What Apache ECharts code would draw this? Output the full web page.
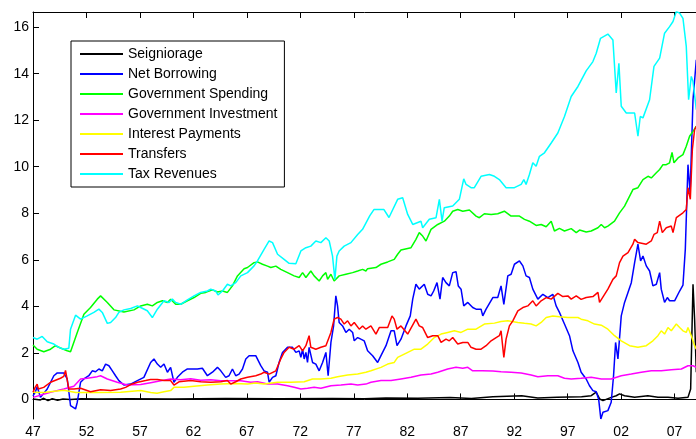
<!DOCTYPE html>
<html>
<head>
<meta charset="utf-8">
<script src="https://cdn.jsdelivr.net/npm/echarts@6/dist/echarts.min.js"></script>
<style>
html, body { margin: 0; padding: 0; background: #fff; }
#chart { width: 696px; height: 439px; }
</style>
</head>
<body>
<div id="chart"></div>
<script>
// [year, % of GDP]
var seigniorage = [[1947.0,0.02],[1947.7,-0.02],[1948.0,0.05],[1948.4,-0.05],[1948.8,0.03],[1949.3,-0.03],[1949.8,0.02],[1950.5,0.0],[1951.5,0.03],[1953,0.02],[1956,0.03],[1960,0.02],[1965,0.04],[1970,0.03],[1975,0.04],[1978,0.03],[1980,0.06],[1983,0.05],[1986,0.08],[1988,0.04],[1990,0.12],[1992.7,0.16],[1994.2,0.06],[1996,0.09],[1998.3,0.12],[1999.2,0.16],[1999.67,0.31],[1999.83,0.38],[2000.0,0.02],[2000.3,-0.05],[2001.07,0.09],[2001.54,0.16],[2001.85,0.24],[2002.32,0.16],[2003.26,0.09],[2004.5,0.16],[2005.44,0.09],[2006.38,0.09],[2007.32,0.05],[2008.25,0.09],[2008.5,0.45],[2008.72,4.95],[2008.87,3.45],[2009.03,1.17]];

var netBorrowing = [[1947.0,0.15],[1947.2,0.3],[1947.39,0.55],[1947.7,0.09],[1948.33,0.45],[1948.95,1.02],[1949.27,1.14],[1949.88,1.14],[1950.2,0.88],[1950.4,0.16],[1950.51,-0.27],[1950.98,-0.41],[1951.14,-0.12],[1951.45,0.74],[1951.76,0.88],[1952.22,1.02],[1952.54,1.23],[1952.85,1.19],[1953.16,1.31],[1953.48,1.23],[1953.79,1.52],[1954.10,1.45],[1954.42,1.23],[1954.72,1.02],[1955.03,0.81],[1955.5,0.62],[1956.13,0.66],[1956.76,0.81],[1957.37,0.95],[1958.0,1.59],[1958.31,1.74],[1958.63,1.52],[1958.94,1.38],[1959.25,1.52],[1959.57,1.17],[1959.87,1.38],[1960.18,0.74],[1960.5,0.95],[1960.97,1.17],[1961.44,1.31],[1961.91,1.31],[1962.37,1.31],[1962.84,1.34],[1963.31,1.02],[1963.78,1.17],[1964.25,1.38],[1964.56,1.23],[1965.02,0.95],[1965.33,1.02],[1965.65,1.31],[1965.96,1.02],[1966.27,1.09],[1966.59,1.31],[1966.90,1.74],[1967.21,1.88],[1967.83,1.88],[1968.0,1.81],[1968.3,1.45],[1968.61,1.23],[1968.93,1.17],[1969.08,0.74],[1969.4,0.95],[1969.71,1.02],[1970.01,1.59],[1970.33,2.02],[1970.8,2.24],[1971.27,2.24],[1971.58,2.02],[1971.89,2.09],[1972.05,1.81],[1972.21,2.16],[1972.36,1.74],[1972.52,2.02],[1972.67,1.59],[1972.82,2.24],[1973.14,1.59],[1973.45,1.52],[1973.76,1.23],[1974.08,1.59],[1974.39,2.02],[1974.6,1.02],[1974.86,2.45],[1975.11,3.16],[1975.32,4.45],[1975.48,4.02],[1975.63,3.31],[1975.95,3.16],[1976.26,2.88],[1976.57,3.02],[1976.89,2.88],[1977.04,2.52],[1977.36,2.66],[1977.66,2.59],[1977.97,2.52],[1978.29,2.09],[1978.76,1.88],[1979.23,1.59],[1979.54,1.88],[1980.01,2.31],[1980.48,2.95],[1980.78,2.95],[1981.04,2.31],[1981.41,2.59],[1981.88,3.16],[1982.28,3.59],[1982.51,4.31],[1982.81,4.95],[1983.12,4.74],[1983.59,4.95],[1983.91,4.52],[1984.22,4.45],[1984.47,4.66],[1984.78,5.02],[1985.06,4.31],[1985.31,5.24],[1985.62,5.02],[1985.93,4.88],[1986.25,5.45],[1986.56,5.49],[1986.77,4.88],[1987.03,4.74],[1987.28,4.02],[1987.66,4.17],[1988.12,3.95],[1988.43,3.88],[1988.9,3.88],[1989.06,3.59],[1989.37,3.88],[1990.0,4.38],[1990.46,4.38],[1990.77,4.88],[1991.03,4.09],[1991.40,5.31],[1991.71,5.38],[1992.02,5.81],[1992.49,5.95],[1992.81,5.74],[1993.11,5.31],[1993.42,5.24],[1993.74,4.74],[1994.21,4.31],[1994.68,4.52],[1995.15,4.38],[1995.61,4.52],[1995.92,4.02],[1996.23,3.74],[1996.7,3.24],[1997.17,2.74],[1997.49,2.09],[1997.96,1.59],[1998.26,1.17],[1998.73,0.88],[1999.04,0.59],[1999.36,0.38],[1999.67,0.33],[1999.9,0.0],[2000.1,-0.84],[2000.3,-0.55],[2000.76,-0.48],[2001.07,-0.12],[2001.29,1.02],[2001.48,2.45],[2001.7,1.74],[2002.01,3.59],[2002.32,4.17],[2002.64,4.6],[2002.95,5.02],[2003.26,5.88],[2003.57,6.67],[2003.82,5.95],[2004.04,6.16],[2004.35,5.74],[2004.66,5.52],[2004.97,4.88],[2005.29,4.95],[2005.6,5.45],[2005.75,4.74],[2006.06,4.17],[2006.32,4.38],[2006.53,4.24],[2007.0,4.24],[2007.47,4.66],[2007.78,4.91],[2008.0,6.45],[2008.25,10.09],[2008.45,8.88],[2008.72,12.88],[2009.03,14.6]];

var govSpending = [[1947.0,2.34],[1947.39,2.16],[1948.01,2.05],[1948.64,2.16],[1949.1,2.31],[1949.57,2.21],[1950.2,2.09],[1950.51,2.05],[1951.14,2.88],[1951.76,3.66],[1952.38,3.95],[1953.01,4.31],[1953.32,4.45],[1953.95,4.17],[1954.57,3.85],[1955.5,3.76],[1956.44,3.85],[1957.07,4.02],[1957.69,4.09],[1958.16,4.02],[1958.63,4.17],[1959.1,4.24],[1959.57,4.17],[1959.87,4.31],[1960.34,4.09],[1960.81,4.09],[1961.44,4.24],[1962.06,4.38],[1962.68,4.56],[1963.15,4.6],[1963.78,4.71],[1964.25,4.62],[1964.72,4.66],[1965.18,4.6],[1965.65,4.88],[1966.12,5.31],[1966.74,5.62],[1967.06,5.67],[1967.67,5.88],[1967.99,5.91],[1968.46,5.81],[1968.93,5.73],[1969.24,5.67],[1969.71,5.73],[1970.17,5.59],[1970.8,5.45],[1971.42,5.31],[1971.89,5.24],[1972.21,5.45],[1972.52,5.24],[1972.98,5.52],[1973.29,5.31],[1973.76,5.09],[1974.08,5.31],[1974.39,5.45],[1974.55,5.16],[1974.86,5.38],[1975.16,5.09],[1975.63,5.31],[1976.26,5.38],[1976.89,5.45],[1977.36,5.52],[1977.82,5.59],[1978.13,5.52],[1978.29,5.62],[1979.07,5.67],[1979.54,5.81],[1980.17,5.91],[1980.78,6.02],[1981.1,6.24],[1981.41,6.42],[1982.35,6.52],[1982.81,6.88],[1983.12,7.17],[1983.44,7.02],[1983.75,6.81],[1984.22,7.31],[1984.85,7.52],[1985.47,7.66],[1985.93,7.88],[1986.25,8.09],[1986.72,8.16],[1987.19,8.09],[1987.81,8.14],[1988.43,7.88],[1988.74,7.81],[1989.21,7.98],[1989.84,7.95],[1990.46,7.98],[1991.08,8.09],[1991.71,7.88],[1992.49,7.88],[1992.96,7.74],[1993.42,7.66],[1994.05,7.48],[1994.52,7.52],[1994.99,7.42],[1995.46,7.66],[1995.76,7.24],[1996.23,7.35],[1996.7,7.24],[1997.33,7.34],[1997.8,7.17],[1998.11,7.28],[1998.73,7.2],[1999.2,7.24],[1999.83,7.38],[2000.14,7.52],[2000.45,7.38],[2000.76,7.45],[2001.38,7.66],[2001.85,8.02],[2002.32,8.31],[2003.1,9.02],[2003.57,9.1],[2004.04,9.45],[2004.51,9.59],[2004.82,9.52],[2005.29,9.74],[2005.6,9.88],[2005.91,10.09],[2006.22,10.09],[2006.53,10.17],[2006.76,10.62],[2006.94,10.17],[2007.32,10.38],[2007.78,10.52],[2008.09,10.88],[2008.4,11.31],[2008.72,11.52],[2009.03,11.74]];

var govInvestment = [[1947.0,0.09],[1948.64,0.31],[1949.88,0.45],[1950.82,0.57],[1951.45,0.88],[1952.07,0.91],[1953.01,0.98],[1953.32,1.02],[1953.95,0.88],[1954.88,0.74],[1955.82,0.62],[1957.07,0.64],[1958.0,0.72],[1958.94,0.8],[1959.87,0.88],[1960.81,0.85],[1961.75,0.89],[1962.68,0.83],[1963.62,0.85],[1964.56,0.8],[1965.49,0.8],[1966.43,0.8],[1967.37,0.74],[1968.0,0.76],[1968.93,0.66],[1969.87,0.66],[1970.8,0.59],[1971.42,0.52],[1972.05,0.45],[1972.67,0.48],[1973.29,0.52],[1973.92,0.48],[1974.86,0.59],[1975.79,0.62],[1976.73,0.66],[1977.36,0.62],[1978.13,0.66],[1978.6,0.74],[1979.54,0.81],[1980.48,0.81],[1981.41,0.88],[1982.35,0.95],[1983.28,1.05],[1984.22,1.09],[1984.85,1.17],[1985.78,1.31],[1986.56,1.38],[1987.19,1.34],[1987.66,1.38],[1988.12,1.23],[1989.0,1.23],[1990.0,1.22],[1990.77,1.19],[1991.71,1.17],[1992.65,1.14],[1993.58,1.05],[1994.21,0.98],[1995.15,1.02],[1996.08,1.02],[1996.7,0.91],[1997.33,0.88],[1998.26,0.91],[1999.2,0.95],[2000.14,0.88],[2001.07,0.88],[2002.01,1.02],[2002.95,1.09],[2003.88,1.17],[2004.82,1.23],[2005.75,1.23],[2006.69,1.28],[2007.63,1.31],[2008.25,1.45],[2008.72,1.45],[2009.03,1.38]];

var interestPayments = [[1947.0,0.31],[1948.0,0.3],[1949.88,0.4],[1951.0,0.3],[1953.0,0.3],[1955.19,0.31],[1957.07,0.38],[1958.0,0.3],[1958.6,0.27],[1959.25,0.33],[1959.87,0.38],[1960.18,0.52],[1961.12,0.52],[1962.06,0.57],[1963.31,0.62],[1964.56,0.66],[1965.8,0.69],[1967.06,0.66],[1967.83,0.71],[1968.61,0.66],[1969.87,0.74],[1971.11,0.74],[1972.36,0.76],[1973.14,0.88],[1973.92,0.88],[1974.86,0.91],[1975.48,0.98],[1976.42,1.05],[1977.36,1.09],[1978.13,1.17],[1978.6,1.23],[1979.54,1.38],[1980.17,1.52],[1980.78,1.59],[1981.1,1.81],[1981.72,1.95],[1982.66,2.16],[1983.28,2.16],[1983.91,2.38],[1984.53,2.66],[1985.16,2.81],[1985.78,2.88],[1986.4,2.95],[1987.03,2.88],[1987.66,3.02],[1988.43,3.02],[1988.59,3.09],[1989.21,3.24],[1990.15,3.28],[1990.77,3.35],[1991.4,3.38],[1992.34,3.31],[1992.96,3.27],[1993.58,3.24],[1994.05,3.16],[1994.52,3.31],[1994.99,3.52],[1995.61,3.59],[1996.23,3.55],[1997.02,3.52],[1997.96,3.52],[1998.26,3.45],[1998.89,3.38],[1999.51,3.24],[2000.14,3.19],[2000.76,3.02],[2001.38,2.74],[2002.01,2.52],[2002.79,2.31],[2003.57,2.24],[2004.35,2.31],[2004.97,2.52],[2005.44,2.74],[2005.75,2.95],[2006.06,2.81],[2006.38,3.09],[2006.69,2.95],[2007.16,3.24],[2007.47,3.09],[2007.78,2.95],[2008.09,2.88],[2008.25,3.09],[2008.56,2.74],[2008.87,2.31],[2009.03,2.16]];

var transfers = [[1947.0,0.31],[1947.2,0.52],[1947.39,0.66],[1947.5,0.45],[1948.0,0.52],[1948.64,0.74],[1949.57,0.91],[1949.88,0.99],[1950.04,1.25],[1950.35,0.45],[1950.82,0.45],[1951.45,0.48],[1952.38,0.33],[1953.32,0.42],[1954.26,0.38],[1955.19,0.45],[1955.66,0.52],[1956.13,0.64],[1956.78,0.74],[1957.53,0.81],[1958.0,0.86],[1958.63,0.86],[1959.25,0.81],[1959.87,0.81],[1960.18,0.62],[1960.65,0.76],[1961.75,0.81],[1962.68,0.76],[1963.62,0.74],[1964.56,0.76],[1965.18,0.81],[1965.49,0.66],[1965.96,0.76],[1966.43,0.88],[1967.06,0.95],[1967.83,1.02],[1968.3,1.09],[1968.61,1.17],[1969.08,1.09],[1969.71,1.23],[1970.17,1.74],[1970.48,2.02],[1970.95,2.24],[1971.42,2.16],[1971.89,2.31],[1972.21,2.09],[1972.52,2.31],[1972.82,2.74],[1972.98,2.24],[1973.45,2.16],[1973.92,2.24],[1974.39,2.31],[1974.86,2.88],[1975.16,3.45],[1975.48,3.52],[1975.79,3.45],[1976.1,3.24],[1976.42,3.38],[1976.73,3.16],[1977.04,3.31],[1977.51,3.02],[1977.82,3.16],[1978.13,3.02],[1978.6,3.16],[1979.07,2.81],[1979.38,3.09],[1980.17,3.09],[1980.57,3.59],[1980.78,3.45],[1981.04,3.02],[1981.41,3.16],[1982.04,2.81],[1982.81,3.45],[1983.12,3.16],[1983.44,3.09],[1983.91,2.66],[1984.38,2.74],[1984.85,2.74],[1985.16,2.45],[1985.62,2.59],[1985.93,2.52],[1986.25,2.66],[1986.72,2.38],[1987.19,2.45],[1987.66,2.45],[1987.96,2.24],[1988.43,2.16],[1988.9,2.16],[1989.37,2.31],[1989.84,2.52],[1990.31,2.66],[1990.61,2.74],[1990.77,2.95],[1991.03,1.81],[1991.24,2.59],[1991.55,3.16],[1991.87,3.38],[1992.34,3.81],[1992.81,3.95],[1993.27,4.02],[1993.74,4.24],[1994.05,4.02],[1994.52,4.24],[1994.99,4.38],[1995.46,4.31],[1996.08,4.56],[1996.55,4.42],[1997.02,4.45],[1997.33,4.31],[1997.8,4.45],[1998.26,4.3],[1998.73,4.38],[1999.36,4.42],[1999.83,4.6],[1999.98,4.17],[2000.76,4.74],[2001.23,5.16],[2001.54,5.31],[2001.85,5.88],[2002.17,6.16],[2002.64,6.31],[2003.1,6.67],[2003.26,6.88],[2003.57,6.74],[2004.35,6.67],[2004.82,6.81],[2005.07,7.09],[2005.38,7.17],[2005.6,7.66],[2005.85,7.17],[2006.22,7.38],[2006.69,7.45],[2006.85,7.17],[2007.16,7.81],[2007.78,8.02],[2008.09,8.16],[2008.25,9.1],[2008.47,8.6],[2008.66,10.74],[2008.87,11.6],[2009.03,11.74]];

var taxRevenues = [[1947.0,2.66],[1947.39,2.59],[1947.86,2.71],[1948.33,2.48],[1948.95,2.38],[1949.42,2.24],[1949.88,2.16],[1950.35,2.2],[1950.51,3.02],[1950.98,3.62],[1951.45,3.45],[1952.07,3.59],[1952.69,3.74],[1953.16,3.88],[1953.48,3.74],[1953.95,3.27],[1954.26,3.31],[1954.72,3.52],[1955.03,3.74],[1955.5,3.85],[1956.13,3.91],[1956.76,4.02],[1957.07,3.95],[1957.69,3.81],[1958.16,3.52],[1958.63,3.88],[1959.25,4.24],[1959.72,4.17],[1960.03,4.31],[1960.34,4.17],[1960.81,4.09],[1961.44,4.28],[1962.06,4.45],[1962.68,4.6],[1963.31,4.66],[1963.62,4.74],[1964.09,4.66],[1964.3,4.49],[1964.72,4.66],[1965.18,4.95],[1965.49,4.88],[1965.96,5.02],[1966.43,5.31],[1967.06,5.45],[1967.67,5.74],[1967.99,5.95],[1968.61,6.45],[1969.08,6.81],[1969.4,6.74],[1969.87,6.24],[1970.48,6.02],[1970.95,5.85],[1971.58,5.83],[1972.05,6.38],[1972.52,6.52],[1972.98,6.59],[1973.45,6.81],[1973.92,6.74],[1974.39,6.95],[1974.7,6.81],[1975.01,6.16],[1975.23,5.16],[1975.42,6.16],[1975.63,6.38],[1976.1,6.59],[1976.73,6.74],[1977.36,7.09],[1977.82,7.31],[1977.97,7.24],[1978.5,7.9],[1978.88,8.16],[1979.82,8.16],[1980.29,7.82],[1981.1,8.6],[1981.57,8.67],[1982.04,7.95],[1982.51,7.52],[1983.28,7.66],[1983.44,7.38],[1984.06,7.74],[1984.69,7.81],[1985.0,8.6],[1985.25,7.66],[1985.46,8.24],[1986.25,8.31],[1986.87,8.6],[1987.28,9.48],[1987.5,9.24],[1987.96,9.1],[1988.27,9.1],[1988.9,9.59],[1989.68,9.67],[1990.15,9.59],[1990.61,9.45],[1991.24,9.1],[1992.02,9.1],[1992.65,9.24],[1992.9,9.45],[1993.11,9.24],[1993.42,9.67],[1993.74,10.17],[1994.05,10.02],[1994.36,10.45],[1994.83,10.6],[1995.46,11.02],[1996.08,11.45],[1996.7,12.16],[1997.33,13.02],[1997.96,13.45],[1998.73,14.12],[1999.36,14.52],[1999.67,14.88],[2000.07,15.52],[2000.76,15.7],[2001.23,15.45],[2001.38,15.4],[2001.54,13.17],[2001.79,14.45],[2002.01,12.6],[2002.48,12.31],[2003.26,12.31],[2003.57,11.31],[2003.79,12.16],[2004.04,12.1],[2004.66,12.88],[2004.82,12.95],[2005.07,14.31],[2005.6,14.67],[2006.06,15.74],[2006.53,16.02],[2006.85,16.24],[2007.16,16.67],[2007.47,16.6],[2007.78,16.38],[2008.09,15.17],[2008.31,12.88],[2008.56,13.88],[2008.72,13.66],[2009.03,12.45]];

var seriesNames = ['Seigniorage', 'Net Borrowing', 'Government Spending', 'Government Investment', 'Interest Payments', 'Transfers', 'Tax Revenues'];
var seriesColors = ['#000000', '#0000ff', '#00ff00', '#ff00ff', '#ffff00', '#ff0000', '#00ffff'];
var seriesData = [seigniorage, netBorrowing, govSpending, govInvestment, interestPayments, transfers, taxRevenues];

var yearTicks = [1947, 1952, 1957, 1962, 1967, 1972, 1977, 1982, 1987, 1992, 1997, 2002, 2007];
var valueTicks = [0, 2, 4, 6, 8, 10, 12, 14, 16];

var font = 'Liberation Sans';
var myChart = echarts.init(document.getElementById('chart'));

var series = seriesNames.map(function (name, i) {
    return {
        name: name,
        type: 'line',
        data: seriesData[i],
        symbol: 'none',
        xAxisIndex: 0,
        yAxisIndex: 0,
        lineStyle: {color: seriesColors[i], width: 1.5},
        itemStyle: {color: seriesColors[i]}
    };
});

myChart.setOption({
    animation: false,
    backgroundColor: '#fff',
    grid: {left: 33, right: 0, top: 12, bottom: 19},
    legend: {
        orient: 'vertical',
        left: 71,
        top: 41,
        padding: [6, 7, 6, 9],
        icon: 'rect',
        itemWidth: 43,
        itemHeight: 2,
        itemGap: 6,
        backgroundColor: '#fff',
        borderColor: '#000',
        borderWidth: 1,
        data: seriesNames,
        textStyle: {fontFamily: font, fontSize: 14, color: '#000', lineHeight: 14}
    },
    xAxis: [{
        type: 'value',
        min: 1947,
        max: 2009,
        axisLine: {lineStyle: {color: '#000', width: 1}},
        axisTick: {inside: true, length: 6, customValues: yearTicks, lineStyle: {color: '#000'}},
        axisLabel: {
            customValues: yearTicks,
            margin: 6,
            fontFamily: font,
            fontSize: 14,
            color: '#000',
            formatter: function (v) {
                var s = String(v % 100);
                return s.length < 2 ? '0' + s : s;
            }
        },
        splitLine: {show: false}
    }, {
        type: 'value',
        position: 'top',
        min: 1947,
        max: 2009,
        axisLine: {lineStyle: {color: '#000', width: 1}},
        axisTick: {inside: true, length: 6, customValues: yearTicks, lineStyle: {color: '#000'}},
        axisLabel: {show: false},
        splitLine: {show: false}
    }],
    yAxis: {
        type: 'value',
        min: -0.84,
        max: 16.65,
        axisLine: {show: true, lineStyle: {color: '#000', width: 1}},
        axisTick: {show: true, inside: true, length: 6, customValues: valueTicks, lineStyle: {color: '#000'}},
        axisLabel: {customValues: valueTicks, margin: 4, fontFamily: font, fontSize: 14, color: '#000'},
        splitLine: {show: false}
    },
    series: series
});
</script>
</body>
</html>
